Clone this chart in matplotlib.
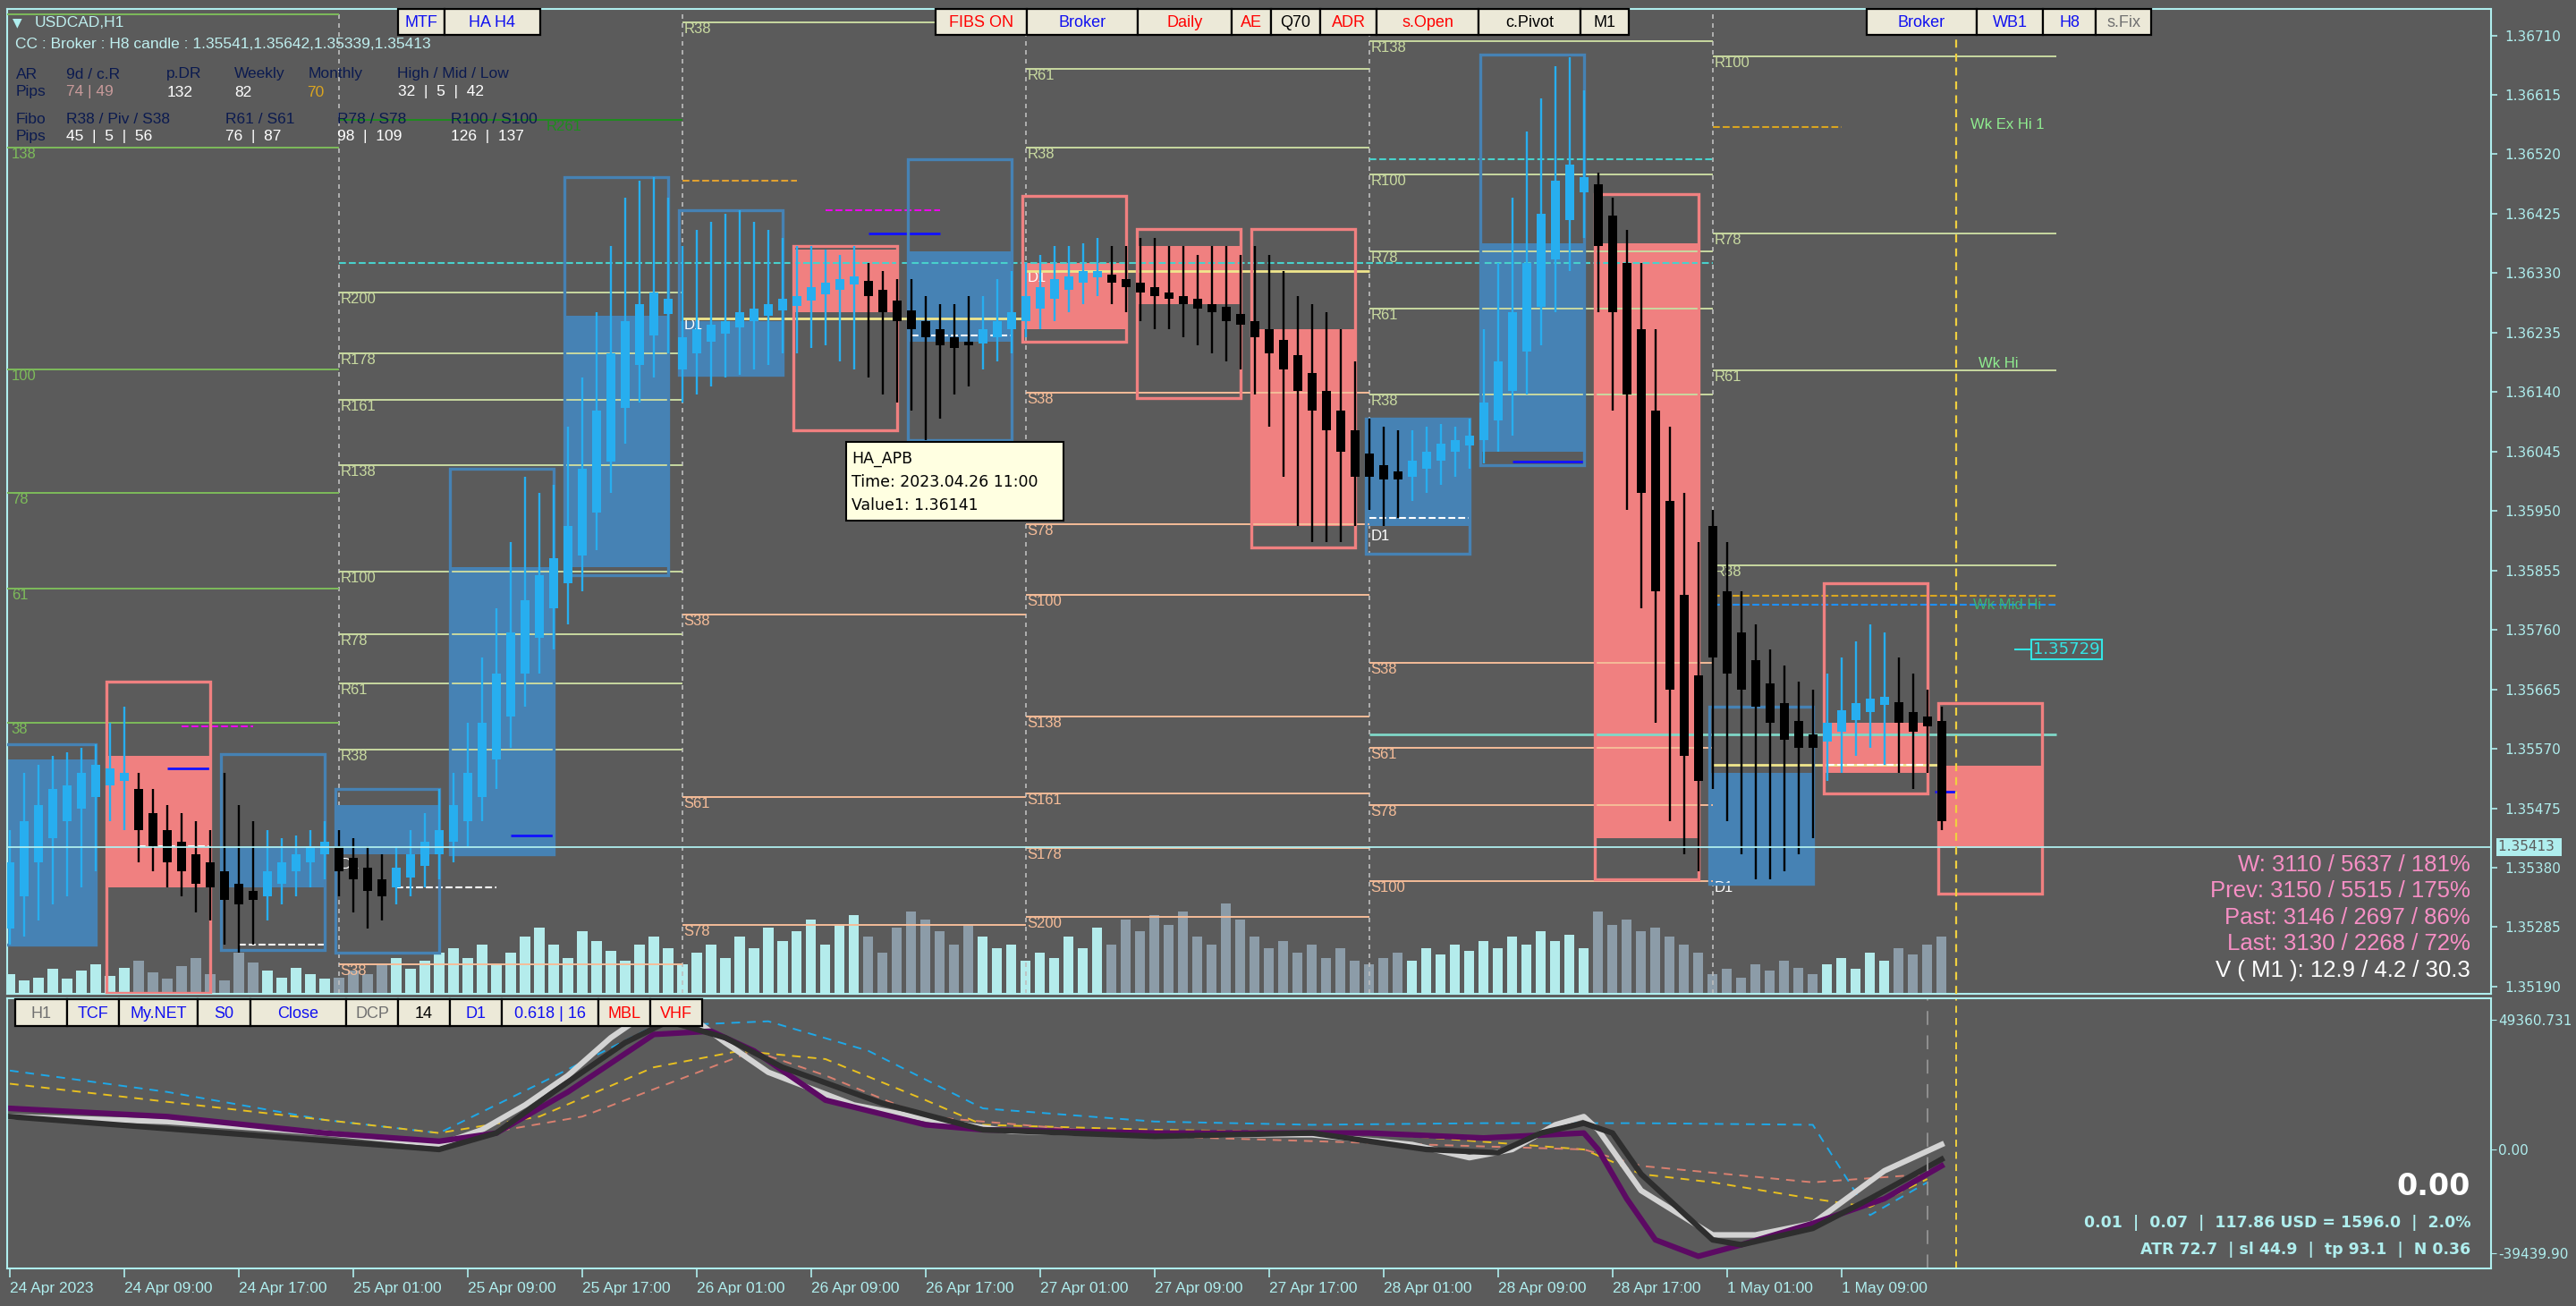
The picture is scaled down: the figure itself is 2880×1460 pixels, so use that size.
import matplotlib
matplotlib.use("Agg")
import matplotlib.pyplot as plt
from matplotlib.patches import Rectangle
from matplotlib.transforms import blended_transform_factory
import numpy as np

# ---------------- données (prix en points : 1 point = 0.00001) ----------------
OPEN = [135283, 135335, 135388, 135427, 135454, 135475, 135493, 135511, 135519, 135506,
        135467, 135440, 135422, 135401, 135388, 135375, 135354, 135343, 135335, 135354,
        135375, 135388, 135401, 135414, 135396, 135380, 135362, 135349, 135364, 135383,
        135401, 135422, 135454, 135493, 135553, 135622, 135690, 135748, 135795, 135834,
        135879, 135947, 136029, 136115, 136184, 136231, 136265, 136176, 136202, 136220,
        136233, 136244, 136254, 136262, 136270, 136278, 136286, 136296, 136304, 136312,
        136317, 136304, 136286, 136270, 136254, 136241, 136228, 136220, 136218, 136228,
        136241, 136254, 136273, 136289, 136304, 136315, 136323, 136328, 136320, 136315,
        136307, 136299, 136294, 136289, 136281, 136276, 136265, 136254, 136241, 136223,
        136199, 136170, 136142, 136110, 136079, 136042, 136023, 136013, 136005, 136018,
        136031, 136044, 136055, 136063, 136094, 136142, 136205, 136276, 136352, 136415,
        136459, 136472, 136422, 136346, 136241, 136110, 135966, 135816, 135687, 135926,
        135821, 135756, 135711, 135674, 135643, 135614, 135593, 135582, 135598, 135616,
        135629, 135640, 135645, 135629, 135622, 135614]
CLOSE = [135388, 135454, 135480, 135506, 135511, 135532, 135545, 135538, 135532, 135440,
         135414, 135388, 135375, 135354, 135349, 135328, 135322, 135328, 135375, 135388,
         135401, 135414, 135422, 135375, 135362, 135343, 135335, 135380, 135401, 135422,
         135440, 135480, 135532, 135611, 135690, 135756, 135808, 135847, 135874, 135926,
         136018, 136110, 136202, 136254, 136281, 136299, 136289, 136228, 136241, 136247,
         136254, 136268, 136273, 136281, 136289, 136294, 136307, 136315, 136320, 136325,
         136294, 136268, 136254, 136241, 136228, 136215, 136210, 136215, 136241, 136254,
         136268, 136294, 136307, 136320, 136325, 136333, 136333, 136315, 136307, 136299,
         136294, 136289, 136281, 136273, 136268, 136254, 136247, 136228, 136202, 136176,
         136142, 136110, 136079, 136044, 136005, 136005, 136000, 136000, 136031, 136044,
         136058, 136063, 136071, 136123, 136189, 136268, 136346, 136425, 136478, 136504,
         136483, 136373, 136268, 136136, 135979, 135821, 135664, 135559, 135519, 135716,
         135690, 135664, 135637, 135611, 135585, 135572, 135572, 135611, 135632, 135643,
         135650, 135653, 135611, 135598, 135606, 135454]
HIGH = [135440, 135532, 135545, 135559, 135564, 135572, 135577, 135611, 135637, 135532,
        135506, 135480, 135467, 135454, 135440, 135532, 135480, 135454, 135440, 135427,
        135432, 135440, 135454, 135440, 135427, 135414, 135401, 135414, 135440, 135467,
        135506, 135532, 135611, 135716, 135795, 135900, 136005, 135979, 135992, 136084,
        136163, 136268, 136373, 136451, 136478, 136483, 136451, 136373, 136399, 136412,
        136425, 136430, 136412, 136399, 136386, 136373, 136373, 136367, 136359, 136373,
        136346, 136333, 136320, 136320, 136294, 136281, 136281, 136294, 136294, 136320,
        136333, 136346, 136359, 136373, 136373, 136378, 136386, 136373, 136373, 136386,
        136386, 136373, 136373, 136359, 136373, 136373, 136359, 136373, 136359, 136333,
        136294, 136281, 136268, 136241, 136189, 136097, 136084, 136079, 136079, 136084,
        136089, 136084, 136097, 136241, 136346, 136451, 136556, 136609, 136661, 136675,
        136622, 136491, 136451, 136399, 136346, 136241, 136084, 135979, 135900, 135952,
        135900, 135821, 135769, 135729, 135703, 135677, 135664, 135690, 135716, 135742,
        135769, 135756, 135716, 135690, 135664, 135637]
LOW = [135257, 135270, 135296, 135322, 135335, 135349, 135375, 135454, 135440, 135388,
       135375, 135349, 135335, 135309, 135296, 135257, 135244, 135257, 135296, 135322,
       135335, 135349, 135362, 135335, 135309, 135283, 135296, 135322, 135335, 135349,
       135362, 135388, 135414, 135454, 135506, 135572, 135637, 135690, 135729, 135769,
       135821, 135887, 135979, 136058, 136123, 136163, 136202, 136123, 136136, 136149,
       136163, 136168, 136176, 136184, 136202, 136202, 136210, 136215, 136189, 136176,
       136163, 136136, 136123, 136110, 136063, 136097, 136136, 136149, 136176, 136189,
       136202, 136228, 136241, 136254, 136268, 136281, 136294, 136281, 136268, 136254,
       136241, 136241, 136228, 136215, 136202, 136189, 136176, 136136, 136084, 136005,
       135926, 135900, 135900, 135900, 135926, 135952, 135926, 135939, 135966, 135979,
       135992, 136005, 136018, 136026, 136044, 136071, 136136, 136215, 136268, 136333,
       136386, 136268, 136110, 135952, 135795, 135611, 135454, 135401, 135375, 135506,
       135454, 135401, 135362, 135362, 135375, 135401, 135427, 135519, 135532, 135559,
       135572, 135545, 135532, 135506, 135532, 135440]
VOLUME = [1200, 800, 1000, 1500, 900, 1400, 1800, 1100, 1600, 2000, 1300, 900, 1700, 2200,
          1200, 800, 2500, 1900, 1400, 1000, 1600, 1200, 900,
          1000, 1400, 1200, 1800, 2200, 1500, 2000, 2500,
          2800, 2200, 3000, 1800, 2500, 3500, 4000, 3000, 2200, 3800, 3200, 2600, 2000, 3000, 3500, 2800,
          1800, 2500, 3000, 2200, 3500, 2800, 4000, 3200, 3800, 4500, 3000, 4200, 4800, 3500, 2500, 4000,
          5000, 4500, 3800, 3000, 4200, 3500, 2800, 3000,
          2000, 2500, 2200, 3500, 2800, 4000, 3000, 4500, 3800, 4800, 4200, 5000, 3500, 3000, 5500, 4500,
          3500, 2800, 3200, 2500, 3000, 2200, 2800, 2000,
          1800, 2200, 2500, 2000, 2800, 2400, 3000, 2600, 3200, 2800, 3500, 3000, 3800, 3200, 3600, 2800,
          5000, 4200, 4500, 3800, 4000, 3500, 3000, 2500,
          1200, 1500, 1000, 1800, 1400, 2000, 1600, 1200,
          1800, 2200, 1500, 2500, 2000, 2800, 2400, 3000, 3500]

# bougies Heiken Ashi H8 (début en barre H1)
BOX_START = [-1, 7, 15, 23, 31, 39, 47, 55, 63, 71, 79, 87, 95, 103, 111, 119, 127, 135]
BOX_OPEN = [135257, 135559, 135349, 135401, 135401, 135861, 136168, 136367, 136220,
            136346, 136373, 136241, 135926, 136044, 136378, 135354, 135611, 135543]
BOX_CLOSE = [135553, 135349, 135414, 135480, 135861, 136262, 136254, 136268, 136365,
             136241, 136281, 135926, 136097, 136378, 135427, 135532, 135532, 135412]
BOX_HIGH = [135577, 135677, 135561, 135506, 136018, 136483, 136430, 136373, 136512,
            136454, 136401, 136401, 136097, 136680, 136457, 135637, 135834, 135643]
BOX_LOW = [135257, 135180, 135249, 135244, 135401, 135847, 136168, 136079, 136063,
           136220, 136131, 135892, 135882, 136023, 135362, 135354, 135498, 135338]

# niveaux fibo journaliers
DAY_SEP = [23, 47, 71, 95, 119]
FIB_D0 = [("", 136744), ("138", 136530), ("100", 136176), ("78", 135979), ("61", 135826), ("38", 135611)]
FIB_D1 = [("R261", 136575), ("R200", 136299), ("R178", 136202), ("R161", 136128), ("R138", 136023),
          ("R100", 135853), ("R78", 135753), ("R61", 135674), ("R38", 135569), ("D1", 135396),
          ("S38", 135225)]
FIB_D2 = [("R38", 136731), ("D1", 136257), ("S38", 135784), ("S61", 135493), ("S78", 135288)]
FIB_D3 = [("R78", 136736), ("R61", 136656), ("R38", 136530), ("D1", 136333), ("S38", 136139),
          ("S78", 135929), ("S100", 135816), ("S138", 135622), ("S161", 135498), ("S178", 135412),
          ("S200", 135301)]
FIB_D4 = [("R138", 136701), ("R100", 136488), ("R78", 136365), ("R61", 136273), ("R38", 136136),
          ("D1", 135921), ("S38", 135708), ("S61", 135572), ("S78", 135480), ("S100", 135359)]
FIB_D5 = [("R100", 136677), ("R78", 136394), ("R61", 136175), ("R38", 135863), ("D1", 135359)]

PRICE_TICKS = [1.36710, 1.36615, 1.36520, 1.36425, 1.36330, 1.36235, 1.36140, 1.36045,
               1.35950, 1.35855, 1.35760, 1.35665, 1.35570, 1.35475, 1.35380, 1.35285, 1.35190]
BID = 1.35413

TICK_IDX = [0, 8, 16, 24, 32, 40, 48, 56, 64, 72, 80, 88, 96, 104, 112, 120, 128]
TICK_LABELS = ["24 Apr 2023", "24 Apr 09:00", "24 Apr 17:00", "25 Apr 01:00", "25 Apr 09:00",
               "25 Apr 17:00", "26 Apr 01:00", "26 Apr 09:00", "26 Apr 17:00", "27 Apr 01:00",
               "27 Apr 09:00", "27 Apr 17:00", "28 Apr 01:00", "28 Apr 09:00", "28 Apr 17:00",
               "1 May 01:00", "1 May 09:00"]

# oscillateur (sous-fenêtre)
FAST_X = [0, 11, 22, 30, 33, 36, 39, 42, 44, 46, 48, 50, 53, 59, 65, 70, 80, 91, 98, 102, 105,
          108, 110, 111, 114, 119, 122, 126, 131, 135]
FAST_Y = [12492, 10618, 6246, 1874, 7495, 16864, 28107, 42473, 49968, 51842, 48719, 40599,
          29356, 16864, 10618, 6871, 5621, 5621, 1874, -3123, 0, 9369, 12492, 7495, -15615,
          -32479, -32479, -28107, -8120, 1874]
SLOW_X = [0, 30, 34, 38, 43, 46, 50, 54, 61, 68, 80, 91, 99, 104, 107, 110, 112, 114, 119, 121,
          126, 130, 135]
SLOW_Y = [12492, 0, 6246, 21861, 40599, 48719, 42473, 31230, 17489, 7495, 4997, 6246, 0, -1249,
          6246, 9994, 6246, -9369, -34353, -36227, -29981, -18738, -3748]
SIG_X = [0, 11, 22, 30, 34, 39, 45, 49, 52, 57, 64, 68, 80, 95, 103, 110, 111, 113, 115, 118,
         121, 126, 131, 135]
SIG_Y = [15615, 12492, 6246, 3123, 6246, 21861, 43722, 44971, 37476, 18738, 9369, 7495, 6246,
         6246, 4372, 6246, 0, -18738, -34353, -40599, -36227, -28107, -18738, -6246]
CYAN_X = [0, 11, 22, 30, 37, 45, 53, 60, 68, 80, 91, 103, 114, 126, 130, 134]
CYAN_Y = [29981, 21861, 11243, 6246, 24984, 46845, 48719, 37476, 15615, 10618, 9369, 9994,
          9994, 9369, -24984, -12492]
YEL_X = [0, 30, 37, 45, 51, 57, 64, 68, 80, 95, 110, 114, 119, 126, 130, 134]
YEL_Y = [24984, 6246, 12492, 31230, 37476, 34353, 18738, 9369, 7495, 6246, 0, -9369, -12492,
         -18738, -21861, -11243]
SAL_X = [30, 40, 52, 57, 64, 80, 110, 114, 126, 134]
SAL_Y = [3123, 12492, 37476, 28107, 12492, 4997, 0, -6246, -12492, -9369]

# ---------------- style ----------------
W, H = 2880, 1460
BG = "#5B5B5B"
CYAN = "#AFEEEE"
BULL = "#27AEEF"
BEAR = "#000000"
BOX_BULL = "#4682B4"
BOX_BEAR = "#F08080"
R_COL = "#C8D9A0"
S_COL = "#F5BC98"
LIB = "Liberation Sans"
DV = "DejaVu Sans"

fig = plt.figure(figsize=(28.8, 14.6), dpi=100, facecolor=BG)


def ftext(x, y, s, **kw):
    return fig.text(x / W, 1 - y / H, s, **kw)


def button(x0, x1, y0, y1, label, color):
    fig.add_artist(Rectangle((x0 / W, 1 - y1 / H), (x1 - x0) / W, (y1 - y0) / H,
                             transform=fig.transFigure, facecolor="#ECE9D8",
                             edgecolor="black", lw=1.6, zorder=20))
    ftext((x0 + x1) / 2, (y0 + y1) / 2 + 1, label, ha="center", va="center",
          color=color, fontsize=13, family=LIB, zorder=21)


# ---------------- panneau principal ----------------
ax = fig.add_axes([8 / W, 1 - 1111 / H, 2777 / W, 1101 / H])
axv = ax.twinx()
ax.set_zorder(axv.get_zorder() + 1)
ax.patch.set_visible(False)
axv.patch.set_visible(False)

xmin, xmax = -0.19, 173.4
ax.set_xlim(xmin, xmax)
ax.set_ylim(1.351785, 1.367522)

o = np.array(OPEN) / 1e5
c = np.array(CLOSE) / 1e5
h = np.array(HIGH) / 1e5
l = np.array(LOW) / 1e5
idx = np.arange(len(o))
up = c >= o

# volumes
axv.set_ylim(0, 59900)
axv.bar(idx, VOLUME, width=0.7, color=np.where(up, "#B4ECEC", "#8C9CA8"), zorder=1)
axv.set_yticks([])
for sp in axv.spines.values():
    sp.set_visible(False)

# boîtes H8
for s, bo, bc, bh, bl in zip(BOX_START, BOX_OPEN, BOX_CLOSE, BOX_HIGH, BOX_LOW):
    colr = BOX_BULL if bc >= bo else BOX_BEAR
    ax.add_patch(Rectangle((s - 0.25, min(bo, bc) / 1e5), 7.25, abs(bc - bo) / 1e5,
                           facecolor=colr, edgecolor="none", zorder=2))
    ax.add_patch(Rectangle((s - 0.25, bl / 1e5), 7.25, (bh - bl) / 1e5, fill=False,
                           edgecolor=colr, lw=2.4, zorder=4))

# séparateurs de jours
for d in DAY_SEP:
    ax.axvline(d, color="#BEBEBE", lw=1.2, ls=(0, (3, 3)), zorder=1)

# niveaux fibo
day_bounds = [(-1, 23), (23, 47), (47, 71), (71, 95), (95, 119), (119, 143)]
for (x0, x1), fib in zip(day_bounds, [FIB_D0, FIB_D1, FIB_D2, FIB_D3, FIB_D4, FIB_D5]):
    for lab, pts in fib:
        p = pts / 1e5
        if x0 < 0:
            col = "#7DBB5A"
        elif lab.startswith("R"):
            col = R_COL
        elif lab.startswith("S"):
            col = S_COL
        else:
            col = "white"
        xl = max(x0, 0) + 0.1
        if lab == "R261":
            col = "#1E8C1E"
            xl = x0 + 14.5   # étiquette décalée hors du bloc d'infos
        if lab != "D1":
            ax.hlines(p, max(x0, xmin), x1, color=col, lw=1.4, zorder=3)
        ax.text(xl, p, lab, color=col, fontsize=12, family=LIB,
                va="top", ha="left", zorder=3)

# lignes diverses (niveaux)
SEG_X0 = [23, 95, 95, 47, 119, 12, 57, 11, 35, 60, 105, 134.5, 71, 119, 47, 9, 16, 27, 63, 95, 127, 119, 119]
SEG_X1 = [119, 119, 143, 55, 128, 17, 65, 14, 38, 65, 110, 136, 95, 135, 71, 14, 22, 34, 70, 102, 134, 143, 143]
SEG_P = [136346, 136512, 135593, 136478, 136564, 135606, 136430, 135538, 135432, 136394, 136029,
         135501, 136333, 135545, 136257, 135414, 135257, 135349, 136231, 135939, 135545, 135815, 135800]
SEG_C = ["#48D1CC", "#48D1CC", "#7FD8C8", "#E0A030", "#DAA520", "#EE00EE", "#EE00EE", "#1010FF",
         "#1010FF", "#1010FF", "#1010FF", "#1010FF", "#F0E68C", "#F0E68C", "#F0E68C", "white",
         "white", "white", "white", "white", "white", "#DAA520", "#1E90FF"]
SEG_LS = ["--", "--", "-", "--", "--", "--", "--", "-", "-", "-", "-", "-", "-", "-", "-",
          "--", "--", "--", "--", "--", "--", "--", "--"]
for x0, x1, p, colr, ls in zip(SEG_X0, SEG_X1, SEG_P, SEG_C, SEG_LS):
    ax.hlines(p / 1e5, x0, x1, color=colr, lw=2 if ls == "-" else 1.5, ls=ls, zorder=3)

# bougies H1
col = np.where(up, BULL, BEAR)
ax.vlines(idx, l, h, colors=col, lw=1.7, zorder=5)
ax.bar(idx, np.maximum(np.abs(c - o), 0.00002), bottom=np.minimum(o, c), width=0.62,
       color=col, zorder=6)

# ligne bid + marqueurs
ax.axhline(BID, color=CYAN, lw=1.3, zorder=6)
ax.axvline(136, color="#F0D040", lw=1.6, ls=(0, (4, 3)), zorder=6)
ax.text(137, 1.36567, "Wk Ex Hi 1", color="#90EE90", fontsize=12, family=LIB, va="center")
ax.text(137.6, 1.36175, "Wk Hi", color="#90EE90", fontsize=12, family=LIB, va="bottom")
ax.text(137.2, 1.35800, "Wk Mid Hi", color="#3CB371", fontsize=12, family=LIB, va="center")
ax.hlines(1.35729, 140.1, 141.3, color="#33E5E5", lw=1.5)
ax.text(141.4, 1.35729, "1.35729", color="#33E5E5", fontsize=13, family=DV, va="center",
        bbox=dict(facecolor="none", edgecolor="#33E5E5", lw=1.5, pad=1.5))

# axe des prix
ax.yaxis.tick_right()
ax.set_yticks(PRICE_TICKS)
ax.set_yticklabels(["%.5f" % t for t in PRICE_TICKS])
ax.tick_params(axis="y", colors=CYAN, labelsize=11, length=5, width=1.2, pad=6)
ax.set_xticks([])
for sp in ax.spines.values():
    sp.set_color(CYAN)
    sp.set_linewidth(1.5)
trans = blended_transform_factory(ax.transAxes, ax.transData)
ax.text(1.003, BID, "1.35413 ", transform=trans, color=BG, fontsize=11, family=DV,
        va="center", ha="left", bbox=dict(facecolor=CYAN, edgecolor="none", pad=2), zorder=10)

# ---------------- sous-fenêtre ----------------
ax2 = fig.add_axes([8 / W, 1 - 1418 / H, 2777 / W, 302 / H])
ax2.set_facecolor(BG)
ax2.set_xlim(xmin, xmax)
ax2.set_ylim(-45220, 57460)
ax2.plot(CYAN_X, CYAN_Y, color="#1EA8E8", lw=1.4, ls=(0, (5, 4)))
ax2.plot(YEL_X, YEL_Y, color="#E8C020", lw=1.4, ls=(0, (5, 4)))
ax2.plot(SAL_X, SAL_Y, color="#D98070", lw=1.4, ls=(0, (5, 4)))
ax2.plot(FAST_X, FAST_Y, color="#D3D3D3", lw=4.5)
ax2.plot(SIG_X, SIG_Y, color="#5C0A63", lw=4.5)
ax2.plot(SLOW_X, SLOW_Y, color="#2E2E2E", lw=4.5)
ax2.axvline(134, color="#909090", lw=1.4, ls=(0, (8, 6)))
ax2.axvline(136, color="#F0D040", lw=1.4, ls=(0, (4, 3)))
ax2.yaxis.tick_right()
ax2.set_yticks([49360.731, 0, -39439.90])
ax2.set_yticklabels(["49360.731", "0.00", "-39439.90"])
ax2.tick_params(axis="y", colors=CYAN, labelsize=11, length=4, pad=2)
ax2.set_xticks(TICK_IDX)
ax2.set_xticklabels(TICK_LABELS, family=LIB, fontsize=12.5)
ax2.tick_params(axis="x", colors=CYAN, length=7, width=1.2, pad=4)
for lbl in ax2.get_xticklabels():
    lbl.set_ha("left")
for sp in ax2.spines.values():
    sp.set_color(CYAN)
    sp.set_linewidth(1.5)

# ---------------- textes ----------------
ftext(14, 25, "\u25BC", color=CYAN, fontsize=10, family=DV, va="center")
ftext(39, 25, "USDCAD,H1", color="#BFEFEF", fontsize=12.5, family=LIB, va="center")
ftext(17, 50, "CC : Broker : H8 candle : 1.35541,1.35642,1.35339,1.35413", color="#BFEFEF",
      fontsize=12.5, family=LIB, va="center")
NAVY = "#0B1A4F"
for x, s in [(18, "AR"), (74, "9d / c.R"), (186, "p.DR"), (262, "Weekly"), (345, "Monthly"),
             (444, "High / Mid / Low")]:
    ftext(x, 83, s, color=NAVY, fontsize=12.5, family=LIB, va="center")
for x, s, colr in [(18, "Pips", NAVY), (74, "74 | 49", "#C89A9A"), (187, "132", "white"),
                   (262, "82", "white"), (343, "70", "#DAA520"), (445, "32  |  5  |  42", "white")]:
    ftext(x, 103, s, color=colr, fontsize=12.5, family=LIB, va="center")
for x, s in [(18, "Fibo"), (74, "R38 / Piv / S38"), (252, "R61 / S61"), (377, "R78 / S78"),
             (504, "R100 / S100")]:
    ftext(x, 133, s, color=NAVY, fontsize=12.5, family=LIB, va="center")
for x, s, colr in [(18, "Pips", NAVY), (74, "45  |  5  |  56", "white"), (252, "76  |  87", "white"),
                   (377, "98  |  109", "white"), (504, "126  |  137", "white")]:
    ftext(x, 153, s, color=colr, fontsize=12.5, family=LIB, va="center")

TOP_LABELS = ["MTF", "HA H4", "FIBS ON", "Broker", "Daily", "AE", "Q70", "ADR", "s.Open",
              "c.Pivot", "M1", "Broker", "WB1", "H8", "s.Fix"]
TOP_X0 = [445, 497, 1046, 1148, 1272, 1377, 1421, 1476, 1539, 1653, 1767, 2087, 2210, 2284, 2343]
TOP_X1 = [497, 604, 1148, 1272, 1377, 1421, 1476, 1539, 1653, 1767, 1821, 2210, 2284, 2343, 2405]
TOP_C = ["#1010F0", "#1010F0", "red", "#1010F0", "red", "red", "black", "red", "red", "black",
         "black", "#1010F0", "#1010F0", "#1010F0", "#707070"]
for lab, x0, x1, colr in zip(TOP_LABELS, TOP_X0, TOP_X1, TOP_C):
    button(x0, x1, 10, 39, lab, colr)

SUB_LABELS = ["H1", "TCF", "My.NET", "S0", "Close", "DCP", "14", "D1", "0.618 | 16", "MBL", "VHF"]
SUB_X0 = [17, 75, 133, 221, 280, 387, 445, 503, 561, 669, 727]
SUB_X1 = [75, 133, 221, 280, 387, 445, 503, 561, 669, 727, 785]
SUB_C = ["#707070", "#1010F0", "#1010F0", "#1010F0", "#1010F0", "#707070", "black", "#1010F0",
         "#1010F0", "red", "red"]
for lab, x0, x1, colr in zip(SUB_LABELS, SUB_X0, SUB_X1, SUB_C):
    button(x0, x1, 1117, 1147, lab, colr)

# infobulle
fig.add_artist(Rectangle((946 / W, 1 - 582 / H), 243 / W, 88 / H, transform=fig.transFigure,
                         facecolor="#FFFFE1", edgecolor="black", lw=1.5, zorder=20))
for y, s in [(513, "HA_APB"), (539, "Time: 2023.04.26 11:00"), (565, "Value1: 1.36141")]:
    ftext(952, y, s, color="black", fontsize=12.5, family=DV, va="center", zorder=21)

# statistiques à droite
PINK = "#F78FC5"
for y, s, colr in [(967, "W: 3110 / 5637 / 181%", PINK), (996, "Prev: 3150 / 5515 / 175%", PINK),
                   (1026, "Past: 3146 / 2697 / 86%", PINK), (1055, "Last: 3130 / 2268 / 72%", PINK),
                   (1085, "V ( M1 ): 12.9 / 4.2 / 30.3", "white")]:
    ftext(2762, y, s, color=colr, fontsize=18.5, family=LIB, ha="right", va="center", zorder=21)

ftext(2762, 1327, "0.00", color="white", fontsize=24, family=DV, weight="bold", ha="right",
      va="center", zorder=21)
ftext(2762, 1367, "0.01  |  0.07  |  117.86 USD = 1596.0  |  2.0%", color=CYAN, fontsize=12.5,
      family=DV, weight="bold", ha="right", va="center", zorder=21)
ftext(2762, 1397, "ATR 72.7  | sl 44.9  |  tp 93.1  |  N 0.36", color=CYAN, fontsize=12.5,
      family=DV, weight="bold", ha="right", va="center", zorder=21)

fig.savefig("out.png", dpi=100, facecolor=BG)
